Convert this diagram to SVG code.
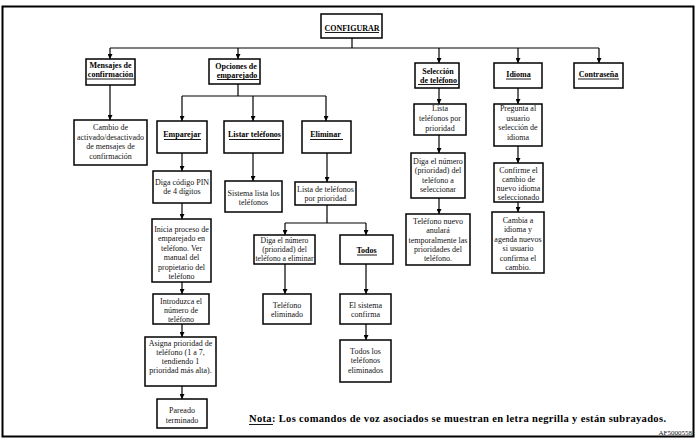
<svg xmlns="http://www.w3.org/2000/svg" width="697" height="441" viewBox="0 0 697 441">
<style>
  .bx { fill: #fff; stroke: #000; stroke-width: 1.5; }
  .t { font-family: "Liberation Serif", "Times New Roman", serif; font-size: 8px; fill: #111; text-anchor: middle; }
  .b { font-family: "Liberation Serif", "Times New Roman", serif; font-size: 8px; font-weight: bold; fill: #000; text-anchor: middle; }
  .ul { stroke: #000; stroke-width: 0.9; }
  .c { stroke: #000; stroke-width: 1.2; fill: none; }
  .a { stroke: #000; stroke-width: 1.2; fill: none; marker-end: url(#ah); }
</style>
<defs>
  <marker id="ah" viewBox="0 0 6 6" refX="6" refY="3" markerWidth="5" markerHeight="5" markerUnits="userSpaceOnUse" orient="auto">
    <path d="M0,0 L6,3 L0,6 z" fill="#000"/>
  </marker>
</defs>
<rect x="0" y="0" width="697" height="441" fill="#fff"/>
<rect x="2.5" y="6.5" width="691" height="430" fill="none" stroke="#000" stroke-width="2"/>

<g id="connectors">
  <path class="c" d="M352,38 V48 M110,48 H599"/>
  <path class="a" d="M110,48 V59"/>
  <path class="a" d="M238,48 V59"/>
  <path class="a" d="M439,48 V63"/>
  <path class="a" d="M518,48 V63"/>
  <path class="a" d="M599,48 V63"/>
  <path class="c" d="M238,84 V96 M182,96 H326"/>
  <path class="a" d="M182,96 V121"/>
  <path class="a" d="M253,96 V121"/>
  <path class="a" d="M326,96 V121"/>
  <path class="a" d="M110,85 V120"/>
  <path class="a" d="M182,153 V171"/>
  <path class="a" d="M182,203 V219"/>
  <path class="a" d="M182,282 V294"/>
  <path class="a" d="M182,324 V337"/>
  <path class="a" d="M182,386 V399"/>
  <path class="a" d="M253,153 V181"/>
  <path class="a" d="M327,153 V182"/>
  <path class="c" d="M327,205 V223 M285,223 H366"/>
  <path class="a" d="M285,223 V235"/>
  <path class="a" d="M366,223 V235"/>
  <path class="a" d="M285,264 V294"/>
  <path class="a" d="M366,264 V294"/>
  <path class="a" d="M366,324 V340"/>
  <path class="a" d="M439,88 V104"/>
  <path class="a" d="M439,135 V153"/>
  <path class="a" d="M439,198 V214"/>
  <path class="a" d="M518,88 V104"/>
  <path class="a" d="M518,146 V163"/>
  <path class="a" d="M518,202 V212"/>
</g>

<g id="configurar">
  <rect class="bx" x="321" y="14" width="61" height="24"/>
  <text class="b" x="352" y="30.5">CONFIGURAR</text>
  <line class="ul" x1="325" y1="32.5" x2="379" y2="32.5"/>
</g>

<g id="mensajes">
  <rect class="bx" x="86" y="59" width="49" height="26"/>
  <text class="b" x="110.5" y="68">Mensajes de</text>
  <text class="b" x="110.5" y="77">confirmación</text>
  <line class="ul" x1="87" y1="79" x2="134" y2="79"/>
</g>

<g id="opciones">
  <rect class="bx" x="209" y="59" width="51" height="25"/>
  <text class="b" x="236" y="69">Opciones de</text>
  <text class="b" x="237" y="77.5">emparejado</text>
  <line class="ul" x1="217" y1="79.5" x2="259" y2="79.5"/>
</g>

<g id="seleccion">
  <rect class="bx" x="415" y="63" width="44" height="25"/>
  <text class="b" x="438" y="73.5">Selección</text>
  <text class="b" x="438.5" y="82.5">de teléfono</text>
  <line class="ul" x1="418" y1="84.5" x2="458" y2="84.5"/>
</g>

<g id="idioma">
  <rect class="bx" x="494" y="63" width="48" height="25"/>
  <text class="b" x="518.5" y="77">Idioma</text>
  <line class="ul" x1="506" y1="79" x2="531" y2="79"/>
</g>

<g id="contrasena">
  <rect class="bx" x="574" y="63" width="49" height="25"/>
  <text class="b" x="598.5" y="77">Contraseña</text>
  <line class="ul" x1="578" y1="79" x2="619" y2="79"/>
</g>

<g id="cambio-activado">
  <rect class="bx" x="74" y="120" width="73" height="45"/>
  <text class="t" x="110.5" y="130">Cambio de</text>
  <text class="t" x="110.5" y="139.5">activado/desactivado</text>
  <text class="t" x="110.5" y="149">de mensajes de</text>
  <text class="t" x="110.5" y="158.5">confirmación</text>
</g>

<g id="emparejar">
  <rect class="bx" x="157" y="121" width="50" height="32"/>
  <text class="b" x="182" y="137">Emparejar</text>
  <line class="ul" x1="164" y1="139.5" x2="201" y2="139.5"/>
</g>

<g id="listar">
  <rect class="bx" x="224" y="121" width="59" height="32"/>
  <text class="b" x="254.5" y="137">Listar teléfonos</text>
  <line class="ul" x1="229" y1="139.5" x2="280" y2="139.5"/>
</g>

<g id="eliminar">
  <rect class="bx" x="302" y="121" width="49" height="32"/>
  <text class="b" x="325.5" y="137">Eliminar</text>
  <line class="ul" x1="310" y1="139.5" x2="343" y2="139.5"/>
</g>

<g id="pin">
  <rect class="bx" x="153" y="171" width="58" height="32"/>
  <text class="t" x="182" y="184.5">Diga código PIN</text>
  <text class="t" x="182" y="194">de 4 dígitos</text>
</g>

<g id="inicia">
  <rect class="bx" x="152" y="219" width="59" height="63"/>
  <text class="t" x="181.5" y="231.5">Inicia proceso de</text>
  <text class="t" x="181.5" y="241">emparejado en</text>
  <text class="t" x="181.5" y="250.5">teléfono. Ver</text>
  <text class="t" x="181.5" y="260">manual del</text>
  <text class="t" x="181.5" y="269.5">propietario del</text>
  <text class="t" x="181.5" y="278.5">teléfono</text>
</g>

<g id="introduzca">
  <rect class="bx" x="153" y="294" width="56" height="30"/>
  <text class="t" x="181" y="303.5">Introduzca el</text>
  <text class="t" x="181" y="312.5">número de</text>
  <text class="t" x="181" y="321.5">teléfono</text>
</g>

<g id="asigna">
  <rect class="bx" x="145" y="337" width="71" height="49"/>
  <text class="t" x="180.5" y="346">Asigna prioridad de</text>
  <text class="t" x="180.5" y="355">teléfono (1 a 7,</text>
  <text class="t" x="180.5" y="364">tendiendo 1</text>
  <text class="t" x="180.5" y="373">prioridad más alta).</text>
</g>

<g id="pareado">
  <rect class="bx" x="157" y="399" width="50" height="29"/>
  <text class="t" x="182" y="413">Pareado</text>
  <text class="t" x="182" y="423">terminado</text>
</g>

<g id="sistema-lista">
  <rect class="bx" x="225" y="181" width="57" height="31"/>
  <text class="t" x="253.5" y="195.5">Sistema lista los</text>
  <text class="t" x="253.5" y="205">teléfonos</text>
</g>

<g id="lista-prioridad">
  <rect class="bx" x="295" y="182" width="61" height="23"/>
  <text class="t" x="325.5" y="191.5">Lista de teléfonos</text>
  <text class="t" x="325.5" y="201">por prioridad</text>
</g>

<g id="diga-eliminar">
  <rect class="bx" x="254" y="235" width="61" height="29"/>
  <text class="t" x="284.5" y="242.5" style="font-size:7.7px">Diga el número</text>
  <text class="t" x="284.5" y="252" style="font-size:7.7px">(prioridad) del</text>
  <text class="t" x="284.5" y="261" style="font-size:7.7px">teléfono a eliminar</text>
</g>

<g id="todos">
  <rect class="bx" x="340" y="235" width="53" height="29"/>
  <text class="b" x="366.5" y="252.5">Todos</text>
  <line class="ul" x1="357" y1="255" x2="377" y2="255"/>
</g>

<g id="telefono-eliminado">
  <rect class="bx" x="263" y="294" width="48" height="30"/>
  <text class="t" x="287" y="307.5">Teléfono</text>
  <text class="t" x="287" y="317">eliminado</text>
</g>

<g id="sistema-confirma">
  <rect class="bx" x="340" y="294" width="51" height="30"/>
  <text class="t" x="365.5" y="307.5">El sistema</text>
  <text class="t" x="365.5" y="317">confirma</text>
</g>

<g id="todos-eliminados">
  <rect class="bx" x="340" y="340" width="51" height="42"/>
  <text class="t" x="365.5" y="353.5">Todos los</text>
  <text class="t" x="365.5" y="363">teléfonos</text>
  <text class="t" x="365.5" y="372.5">eliminados</text>
</g>

<g id="lista-telefonos">
  <rect class="bx" x="414" y="104" width="52" height="31"/>
  <text class="t" x="440" y="110.5">Lista</text>
  <text class="t" x="440" y="120.5">teléfonos por</text>
  <text class="t" x="440" y="130.5">prioridad</text>
</g>

<g id="diga-seleccionar">
  <rect class="bx" x="411" y="153" width="54" height="45"/>
  <text class="t" x="438" y="163.5">Diga el número</text>
  <text class="t" x="438" y="173">(prioridad) del</text>
  <text class="t" x="438" y="182.5">teléfono a</text>
  <text class="t" x="438" y="192">seleccionar</text>
</g>

<g id="telefono-nuevo">
  <rect class="bx" x="406" y="214" width="64" height="51"/>
  <text class="t" x="438" y="223.5">Teléfono nuevo</text>
  <text class="t" x="438" y="233">anulará</text>
  <text class="t" x="438" y="242.5">temporalmente las</text>
  <text class="t" x="438" y="251.5">prioridades del</text>
  <text class="t" x="438" y="261">teléfono.</text>
</g>

<g id="pregunta">
  <rect class="bx" x="494" y="104" width="48" height="42"/>
  <text class="t" x="518" y="111">Pregunta al</text>
  <text class="t" x="518" y="120.5">usuario</text>
  <text class="t" x="518" y="130">selección de</text>
  <text class="t" x="518" y="139.5">idioma</text>
</g>

<g id="confirme">
  <rect class="bx" x="494" y="163" width="49" height="39"/>
  <text class="t" x="518.5" y="172.5">Confirme el</text>
  <text class="t" x="518.5" y="181.5">cambio de</text>
  <text class="t" x="518.5" y="190.5">nuevo idioma</text>
  <text class="t" x="518.5" y="199.5">seleccionado</text>
</g>

<g id="cambia">
  <rect class="bx" x="492" y="212" width="52" height="61"/>
  <text class="t" x="518" y="222.5">Cambia a</text>
  <text class="t" x="518" y="232">idioma y</text>
  <text class="t" x="518" y="241.5">agenda nuevos</text>
  <text class="t" x="518" y="251">si usuario</text>
  <text class="t" x="518" y="260.5">confirma el</text>
  <text class="t" x="518" y="269.5">cambio.</text>
</g>

<g id="nota">
  <text x="249" y="422" font-family="Liberation Serif, Times New Roman, serif" font-size="10.5" font-weight="bold" fill="#000" textLength="417" lengthAdjust="spacing">Nota: Los comandos de voz asociados se muestran en letra negrilla y están subrayados.</text>
  <line class="ul" x1="249" y1="424.5" x2="273" y2="424.5"/>
  <text x="692" y="434.5" font-family="Liberation Serif, Times New Roman, serif" font-size="7" fill="#111" text-anchor="end">AF5000558</text>
</g>
</svg>
